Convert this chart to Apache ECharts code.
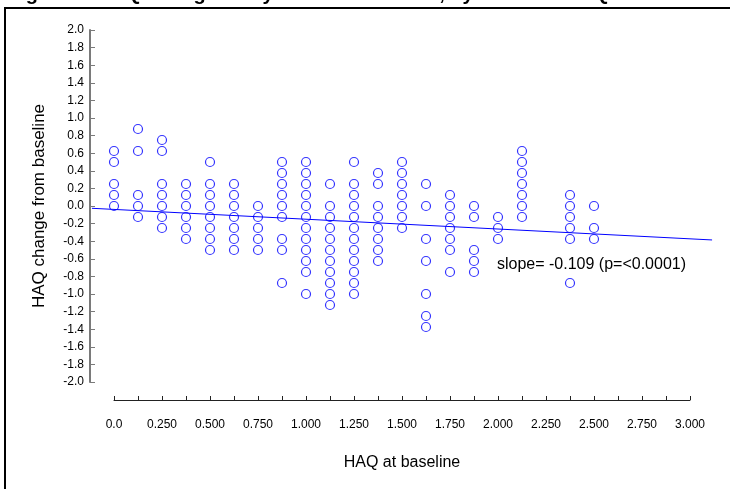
<!DOCTYPE html>
<html>
<head>
<meta charset="utf-8">
<script src="https://cdn.jsdelivr.net/npm/echarts@6/dist/echarts.min.js"></script>
<style>
  html, body { margin: 0; padding: 0; background: #fff; }
  #chart { width: 730px; height: 489px; }
</style>
</head>
<body>
<div id="chart"></div>
<script>
// HAQ at baseline (x columns)
const baselineHAQ = [0, 0.125, 0.25, 0.375, 0.5, 0.625, 0.75, 0.875, 1.0, 1.125,
  1.25, 1.375, 1.5, 1.625, 1.75, 1.875, 2.0, 2.125, 2.375, 2.5];

// HAQ change from baseline, one list per baseline column
const changeByBaseline = [
  [0.625, 0.5, 0.25, 0.125, 0],
  [0.875, 0.625, 0.125, 0, -0.125],
  [0.75, 0.625, 0.25, 0.125, 0, -0.125, -0.25],
  [0.25, 0.125, 0, -0.125, -0.25, -0.375],
  [0.5, 0.25, 0.125, 0, -0.125, -0.25, -0.375, -0.5],
  [0.25, 0.125, 0, -0.125, -0.25, -0.375, -0.5],
  [0, -0.125, -0.25, -0.375, -0.5],
  [0.5, 0.375, 0.25, 0.125, 0, -0.125, -0.375, -0.5, -0.875],
  [0.5, 0.375, 0.25, 0.125, 0, -0.125, -0.25, -0.375, -0.5, -0.625, -0.75, -1.0],
  [0.25, 0, -0.125, -0.25, -0.375, -0.5, -0.625, -0.75, -0.875, -1.0, -1.125],
  [0.5, 0.25, 0.125, 0, -0.125, -0.25, -0.375, -0.5, -0.625, -0.75, -0.875, -1.0],
  [0.375, 0.25, 0, -0.125, -0.25, -0.375, -0.5, -0.625],
  [0.5, 0.375, 0.25, 0.125, 0, -0.125, -0.25],
  [0.25, 0, -0.375, -0.625, -1.0, -1.25, -1.375],
  [0.125, 0, -0.125, -0.25, -0.375, -0.5, -0.75],
  [0, -0.125, -0.5, -0.625, -0.75],
  [-0.125, -0.25, -0.375],
  [0.625, 0.5, 0.375, 0.25, 0.125, 0, -0.125],
  [0.125, 0, -0.125, -0.25, -0.375, -0.875],
  [0, -0.25, -0.375]
];

// fitted regression line end points
const fitX = [-0.115, 3.115];
const fitY = [-0.026, -0.386];

const slopeText = 'slope= -0.109 (p=<0.0001)';

const points = [];
baselineHAQ.forEach((x, i) => {
  changeByBaseline[i].forEach((y) => { points.push([x, y]); });
});

const font = '"Liberation Sans", Arial, sans-serif';

const chart = echarts.init(document.getElementById('chart'));
chart.setOption({
  animation: false,
  // grid 0 holds the marks (x from -0.125 to 3.125), grid 1 only the visible x axis (0 to 3)
  grid: [
    { left: 90, right: 16, top: 30, bottom: 107 },
    { left: 114, right: 40, top: 30, bottom: 107 },
  ],
  graphic: [
    {
      type: 'rect',
      shape: { x: 5, y: 8, width: 900, height: 600 },
      style: { fill: 'none', stroke: '#000', lineWidth: 2 },
    },
    {
      type: 'text',
      x: 8,
      y: 4,
      style: {
        text: 'Figure 3. HAQ change at 1 year from baseline, by baseline HAQ',
        font: 'bold 20px ' + font,
        fill: '#000',
        verticalAlign: 'bottom',
      },
    },
    {
      type: 'text',
      x: 497,
      y: 265,
      style: {
        text: slopeText,
        font: '16px ' + font,
        fill: '#000',
        verticalAlign: 'middle',
      },
    },
  ],
  xAxis: [
    {
      type: 'value',
      gridIndex: 0,
      min: -0.125,
      max: 3.125,
      show: false,
    },
    {
      type: 'value',
      gridIndex: 1,
      min: 0,
      max: 3,
      interval: 0.25,
      offset: 18,
      name: 'HAQ at baseline',
      nameLocation: 'middle',
      nameGap: 55,
      nameTextStyle: { fontFamily: font, fontSize: 16, color: '#000' },
      axisLine: { show: true, onZero: false, lineStyle: { color: '#222', width: 1 } },
      axisTick: { show: true, inside: true, length: 4, lineStyle: { color: '#222' } },
      minorTick: { show: true, splitNumber: 2, length: 4, lineStyle: { color: '#222' } },
      splitLine: { show: false },
      axisLabel: {
        margin: 19,
        fontFamily: font,
        fontSize: 12,
        color: '#000',
        formatter: (v) => (v === 0 ? '0.0' : v.toFixed(3)),
      },
    },
  ],
  yAxis: [
    {
      type: 'value',
      gridIndex: 0,
      min: -2,
      max: 2,
      interval: 0.2,
      name: 'HAQ change from baseline',
      nameLocation: 'middle',
      nameGap: 42,
      nameTextStyle: { fontFamily: font, fontSize: 17, color: '#000' },
      axisLine: { show: true, onZero: false, lineStyle: { color: '#7a7a7a', width: 2 } },
      axisTick: { show: true, inside: true, length: 5, lineStyle: { color: '#7a7a7a' } },
      splitLine: { show: false },
      axisLabel: {
        margin: 6,
        fontFamily: font,
        fontSize: 12,
        color: '#000',
        formatter: (v) => v.toFixed(1),
      },
    },
    {
      type: 'value',
      gridIndex: 1,
      min: -2,
      max: 2,
      show: false,
    },
  ],
  series: [
    {
      type: 'line',
      xAxisIndex: 0,
      yAxisIndex: 0,
      data: fitX.map((x, i) => [x, fitY[i]]),
      showSymbol: false,
      symbol: 'none',
      lineStyle: { color: '#0000ff', width: 1 },
      z: 3,
    },
    {
      type: 'scatter',
      xAxisIndex: 0,
      yAxisIndex: 0,
      data: points,
      symbol: 'circle',
      symbolSize: 9,
      itemStyle: {
        color: 'rgba(0,0,0,0)',
        borderColor: '#0000ff',
        borderWidth: 1.2,
      },
      z: 2,
    },
  ],
});
window.addEventListener('resize', () => { chart.resize(); });
</script>
</body>
</html>
